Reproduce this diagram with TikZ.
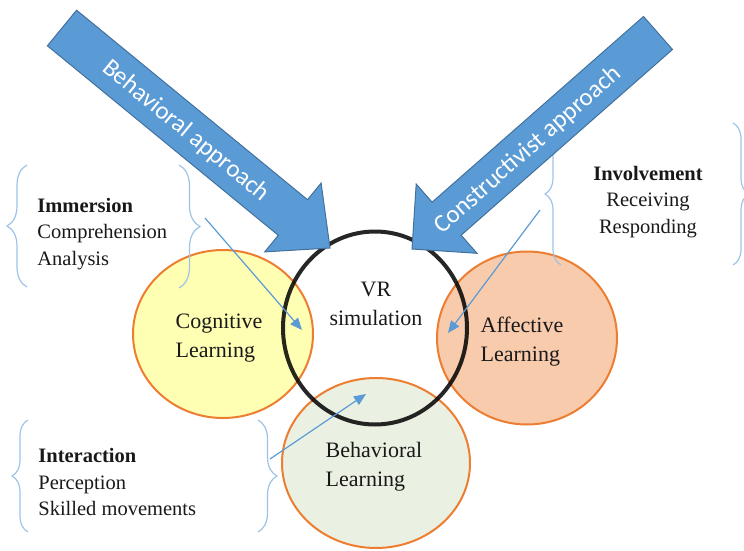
\documentclass[tikz,border=0pt]{standalone}
\usepackage{fontspec}
\setmainfont{Liberation Serif}
\newfontfamily\approachfont{Carlito}
\usepackage{tikz}
\usetikzlibrary{shapes.geometric, arrows.meta, decorations.pathreplacing}
\definecolor{approachblue}{RGB}{91, 155, 213}
\definecolor{approachedge}{RGB}{65, 113, 156}
\definecolor{bracketblue}{RGB}{157, 195, 230}
\definecolor{ringorange}{RGB}{237, 125, 49}
\definecolor{cogyellow}{RGB}{255, 255, 180}
\definecolor{affpeach}{RGB}{248, 203, 173}
\definecolor{behgreen}{RGB}{235, 241, 226}
\definecolor{inkgray}{RGB}{25, 25, 25}
\tikzstyle{learning} = [
    ellipse,
    draw=ringorange,
    line width=1pt,
    inner sep=0pt
]
\tikzstyle{learntext} = [
    align=left,
    inner sep=0pt,
    text=inkgray,
    font=\fontsize{11}{14.5}\selectfont
]
\tikzstyle{ring} = [
    ellipse,
    draw=black,
    draw opacity=0.85,
    line width=2pt,
    inner sep=0pt,
    minimum width=92pt,
    minimum height=96.5pt
]
\tikzstyle{grouptext} = [
    inner sep=0pt,
    text=inkgray,
    font=\fontsize{10.25}{13.25}\selectfont
]
\tikzstyle{bracket} = [
    decorate,
    draw=bracketblue,
    line width=0.6pt
]
\tikzstyle{pointer} = [
    draw=approachblue,
    line width=0.6pt,
    -{Triangle[length=6pt, width=5pt]}
]
\tikzstyle{approach} = [
    fill=approachblue,
    draw=approachedge,
    line width=0.5pt
]
\tikzstyle{approachtext} = [
    text=white,
    inner sep=0pt,
    font=\approachfont\fontsize{12.5}{14}\selectfont
]

\begin{document}
\begin{tikzpicture}[x=0.5pt, y=-0.5pt]
    \clip (0,0) rectangle (744,551);

    % Learning domains
    \node[learning, fill=cogyellow, minimum width=90pt, minimum height=84pt] (cognitive) at (223,334) {};
    \node[learning, fill=affpeach, minimum width=90pt, minimum height=86.5pt] (affective) at (527,338) {};
    \node[learning, fill=behgreen, minimum width=94pt, minimum height=85pt] (behavioral) at (376,463) {};

    % VR ring
    \node[ring] (vr) at (375,328) {};

    % Labels
    \node[learntext] (cogtext) at (219,338) {Cognitive\\Learning};
    \node[learntext] (afftext) at (522,342) {Affective\\Learning};
    \node[learntext] (behtext) at (374,467) {Behavioral\\Learning};
    \node[learntext, align=center] (vrtext) at (376,304) {VR\\simulation};

    % Groups
    \node[grouptext, anchor=west, align=left] (immersion) at (37,234) {\textbf{Immersion}\\Comprehension\\Analysis};
    \node[grouptext, align=center] (involvement) at (648,202) {\textbf{Involvement}\\Receiving\\Responding};
    \node[grouptext, anchor=west, align=left] (interaction) at (38,482) {\textbf{Interaction}\\Perception\\Skilled movements};

    % Brackets
    \draw[bracket, decoration={brace, amplitude=10pt}] (27,287) -- (27,165);
    \draw[bracket, decoration={brace, amplitude=10.5pt}] (179,165) -- (179,288);
    \draw[bracket, decoration={brace, amplitude=8pt}] (561,265) -- (561,123);
    \draw[bracket, decoration={brace, amplitude=8pt}] (733,123) -- (733,265);
    \draw[bracket, decoration={brace, amplitude=8pt}] (28,532) -- (28,420);
    \draw[bracket, decoration={brace, amplitude=9.5pt}] (258,420) -- (258,532);

    % Pointers
    \coordinate (immout) at (205,218);
    \coordinate (invout) at (540,210);
    \coordinate (intout) at (270,459);
    \coordinate (cogin) at (302,330);
    \coordinate (affin) at (448,333);
    \coordinate (behin) at (366,394);
    \draw[pointer] (immout) -- (cogin);
    \draw[pointer] (invout) -- (affin);
    \draw[pointer] (intout) -- (behin);

    % Approaches
    \draw[approach] (76.6,10.2) -- (307.5,199.7) -- (321.1,183.1) -- (330,248)
        -- (264.7,251.9) -- (278.3,235.3) -- (47.4,45.8) -- cycle;
    \node[approachtext, rotate=-39.4] (behaviorist) at (186,131) {Behavioral approach};
    \draw[approach] (643.5,16.5) -- (432.1,202.2) -- (416.2,184.1) -- (412,249)
        -- (477,253.3) -- (461.1,235.2) -- (672.5,49.5) -- cycle;
    \node[approachtext, rotate=41.3] (constructivist) at (528,150) {Constructivist approach};
\end{tikzpicture}
\end{document}
